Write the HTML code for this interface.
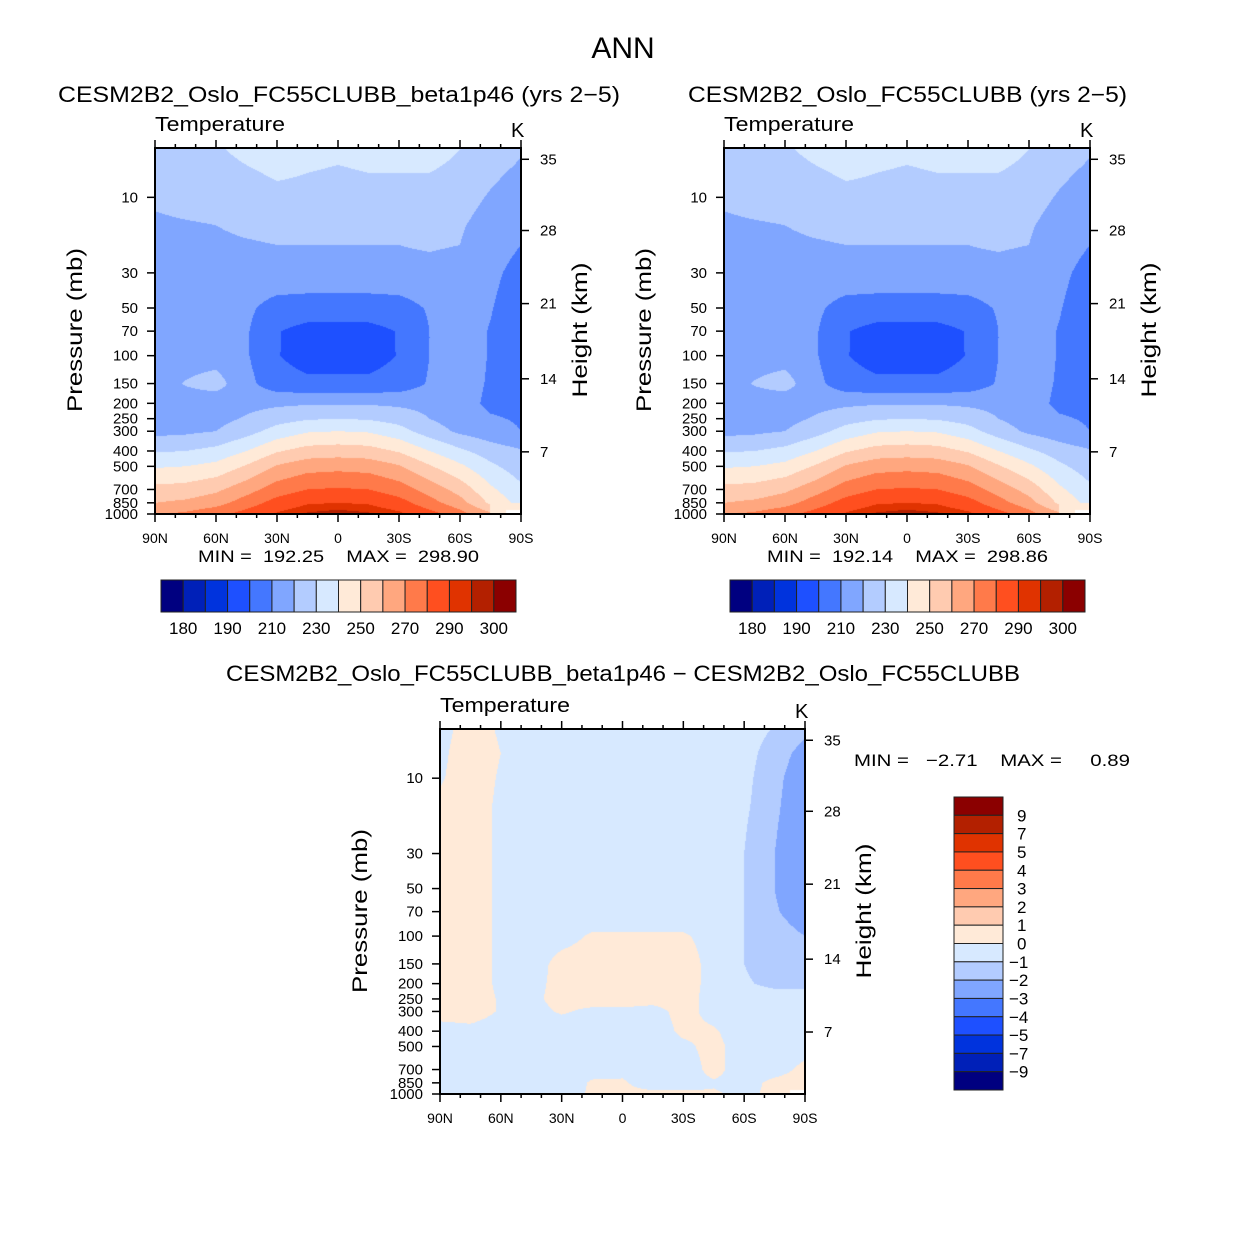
<!DOCTYPE html>
<html><head><meta charset="utf-8">
<style>
html,body{margin:0;padding:0;background:#fff;}
#root{position:relative;width:1246px;height:1244px;overflow:hidden;font-family:"Liberation Sans",sans-serif;}
canvas{position:absolute;}
svg{position:absolute;left:0;top:0;}
text{white-space:pre;}
</style></head>
<body>
<div id="root">
<canvas id="c1" width="366" height="366" style="left:155px;top:148px"></canvas>
<canvas id="c2" width="366" height="366" style="left:724px;top:148px"></canvas>
<canvas id="c3" width="365" height="365" style="left:440px;top:729px"></canvas>
<svg id="ov" width="1246" height="1244"></svg>
</div>
<script>
// ---- data ----
const lats = ["90N","75N","60N","45N","30N","15N","0","15S","30S","45S","60S","75S","90S"];
const pLevels = [5,7,10,15,20,30,50,70,100,150,200,250,300,400,500,700,850,1000];
const tempA = [
 [226,228,229,232,234,233,232,233,234,233,230,226,221],
 [224,226,227,229,231,230,229,230,230,230,228,222,218],
 [222,224,225,227,228,228,227,228,228,227,224,219,215],
 [218,219,220,222,223,223,223,223,223,223,221,216,212],
 [216,217,218,219,220,220,220,220,220,221,220,214,210],
 [215,215,216,216,217,217,217,217,217,217,216,212,207],
 [214,214,214,212,206,205,205,205,206,211,214,210.5,205],
 [214,214,215,211,200.5,197,197,197,200.5,210,214,209.5,205],
 [215,216,216,211,200.5,196,196,196,200.5,210,214,209.5,205],
 [216,220.5,224,213,204,202,202,202,204,211,214,209,206],
 [216,216,214,217,218,219,219,219,218,217,214,208,207],
 [216,216,217,221,226,229,230,229,226,220,215,211,209],
 [217,218,220,226,234,239,240,239,234,225,218,214,210],
 [229,230,233,240,249,254,255,254,249,240,232,225,221],
 [239,240,243,251,261,266,267,266,261,251,242,232,225],
 [253,254,258,266,275,280,281,280,275,266,256,242,232],
 [260,262,266,275,284,289,290,289,284,274,264,248,236],
 [269,272,277,284,291,296,298,296,292,284,274,262,null]
];
const tempB = tempA;
const diffAB = [
 [-0.3,0.4,-0.1,-0.5,-0.5,-0.5,-0.5,-0.5,-0.5,-0.5,-0.5,-1.1,-1.8],
 [-0.2,0.5,0.0,-0.5,-0.5,-0.5,-0.5,-0.5,-0.5,-0.5,-0.6,-1.5,-2.4],
 [-0.1,0.5,-0.1,-0.5,-0.5,-0.5,-0.5,-0.5,-0.5,-0.5,-0.7,-1.7,-2.7],
 [0.2,0.5,-0.2,-0.5,-0.5,-0.5,-0.5,-0.5,-0.5,-0.5,-0.8,-1.8,-2.8],
 [0.3,0.5,-0.2,-0.5,-0.5,-0.5,-0.5,-0.5,-0.5,-0.5,-0.9,-1.9,-2.8],
 [0.3,0.5,-0.2,-0.5,-0.5,-0.5,-0.5,-0.5,-0.5,-0.5,-1.0,-2.0,-2.8],
 [0.3,0.5,-0.2,-0.5,-0.5,-0.5,-0.5,-0.5,-0.5,-0.5,-1.0,-2.0,-2.8],
 [0.3,0.5,-0.2,-0.5,-0.5,-0.5,-0.5,-0.5,-0.5,-0.5,-1.0,-1.9,-2.5],
 [0.3,0.5,-0.2,-0.5,-0.3,0.1,0.1,0.1,0.1,-0.3,-1.0,-1.6,-2.0],
 [0.3,0.5,-0.2,-0.4,0.3,0.4,0.4,0.4,0.4,-0.3,-1.0,-1.4,-1.5],
 [0.3,0.5,-0.2,-0.3,0.3,0.4,0.4,0.4,0.4,-0.3,-0.9,-1.2,-1.2],
 [0.4,0.5,-0.1,-0.2,0.3,0.4,0.4,0.3,0.3,-0.3,-0.6,-0.6,-0.6],
 [0.4,0.5,-0.1,-0.3,0.1,-0.2,-0.2,-0.3,0.3,-0.3,-0.5,-0.5,-0.5],
 [-0.4,-0.3,-0.5,-0.5,-0.5,-0.5,-0.5,-0.5,0.2,0.1,-0.5,-0.5,-0.5],
 [-0.5,-0.5,-0.5,-0.5,-0.5,-0.5,-0.5,-0.5,-0.2,0.3,-0.5,-0.5,-0.3],
 [-0.5,-0.5,-0.5,-0.5,-0.5,-0.3,-0.2,-0.5,-0.5,0.3,-0.5,-0.3,0.2],
 [-0.5,-0.5,-0.5,-0.5,-0.5,0.1,0.1,-0.4,-0.4,-0.1,-0.3,0.2,0.3],
 [-0.5,-0.5,-0.5,-0.5,-0.3,0.1,0.2,0.2,0.2,0.1,-0.2,0.2,null]
];
const tempLevels = [180,185,190,200,210,220,230,240,250,260,270,280,290,295,300];
const tempTickLabels = ["180","190","210","230","250","270","290","300"];
const diffLevels = [-9,-7,-5,-4,-3,-2,-1,0,1,2,3,4,5,7,9];
const diffTickLabels = ["−9","−7","−5","−4","−3","−2","−1","0","1","2","3","4","5","7","9"];
const colors = ["#000080","#0020b8","#0033dd","#1e50ff","#4477ff","#80a6ff","#b3ccff","#d7e9ff","#ffead8","#ffcbb0","#ffa77f","#ff7a4a","#ff4f1f","#e03300","#b32000","#8b0000"];
const pTicks = [10,30,50,70,100,150,200,250,300,400,500,700,850,1000];
const hTicks = [35,28,21,14,7];
const hTickPressures = [5.75,16.2,46.9,140,405];
const xTickLabels = ["90N","60N","30N","0","30S","60S","90S"];

// ---- helpers ----
const PTOP = 4.88, PBOT = 1000;
function hexRGB(h){return [parseInt(h.substr(1,2),16),parseInt(h.substr(3,2),16),parseInt(h.substr(5,2),16)];}
const rgb = colors.map(hexRGB);
const logRows = pLevels.map(p=>Math.log10(p));
function sample(grid, colF, lp){
  let r=0; while(r<logRows.length-2 && lp>logRows[r+1]) r++;
  let fr=(lp-logRows[r])/(logRows[r+1]-logRows[r]); fr=Math.max(0,Math.min(1,fr));
  let c=Math.min(Math.floor(colF),lats.length-2); let fc=colF-c;
  const a=grid[r][c],b=grid[r][c+1],d=grid[r+1][c],e=grid[r+1][c+1];
  if(a==null||b==null||d==null||e==null){
    if(fc<0.5||fr<0.6) {
      const vals=[a,b,d,e].filter(v=>v!=null); if(vals.length>=3 && !(fc>0.6&&fr>0.6)) return vals.reduce((s,v)=>s+v,0)/vals.length;
    }
    return null;
  }
  return (a*(1-fc)+b*fc)*(1-fr)+(d*(1-fc)+e*fc)*fr;
}
function paint(id, grid, levels){
  const cv=document.getElementById(id), ctx=cv.getContext('2d');
  const W=cv.width,H=cv.height, img=ctx.createImageData(W,H);
  for(let y=0;y<H;y++){
    const lp=Math.log10(PTOP)+(Math.log10(PBOT)-Math.log10(PTOP))*(y+0.5)/H;
    for(let x=0;x<W;x++){
      const v=sample(grid,(x+0.5)/W*(lats.length-1),lp);
      let col=[255,255,255];
      if(v!=null){let k=0; while(k<levels.length&&v>=levels[k]) k++; col=rgb[k];}
      const i=(y*W+x)*4; img.data[i]=col[0];img.data[i+1]=col[1];img.data[i+2]=col[2];img.data[i+3]=255;
    }
  }
  ctx.putImageData(img,0,0);
}
paint('c1',tempA,tempLevels);
paint('c2',tempB,tempLevels);
paint('c3',diffAB,diffLevels);

const NS="http://www.w3.org/2000/svg", ov=document.getElementById('ov');
function el(tag,attrs,txt){const e=document.createElementNS(NS,tag);for(const k in attrs)e.setAttribute(k,attrs[k]);if(txt!=null)e.textContent=txt;ov.appendChild(e);return e;}
function text(x,y,s,size,anchor,name,extra){
  const t=el('text',Object.assign({x:x,y:y,'font-size':size,'text-anchor':anchor||'start','font-family':'Liberation Sans, sans-serif',fill:'#000'},extra||{}),s);
  
  
  return t;
}
function line(x1,y1,x2,y2,w,name){
  const l=el('line',{x1:x1,y1:y1,x2:x2,y2:y2,stroke:'#000','stroke-width':w});
  
  
}
function yOfP(p,y0,H){return y0+(Math.log10(p)-Math.log10(PTOP))/(Math.log10(PBOT)-Math.log10(PTOP))*H;}
function fit(len){return {textLength:len,lengthAdjust:'spacingAndGlyphs'};}

function panel(x0,y0,S,minmax,mmx,mmy,mmAnchor,mmLen){
  text(x0,y0-17,"Temperature",20,'start','variable-label',fit(130));
  text(x0+S-10,y0-11,"K",20,'start','units-label');
  const fr=el('rect',{x:x0,y:y0,width:S,height:S,fill:'none',stroke:'#000','stroke-width':2});
  
  
  for(let d=0;d<=180;d+=10){
    const x=x0+d/180*S, len=(d%30==0)?8:4;
    line(x,y0,x,y0-len,1.5,'top-tick');
    line(x,y0+S,x,y0+S+len,1.5,'bottom-tick');
  }
  xTickLabels.forEach((s,i)=>text(x0+i*S/6,y0+S+29,s,14,'middle','x-tick-label'));
  pTicks.forEach(p=>{
    const y=yOfP(p,y0,S);
    line(x0,y,x0-8,y,1.5,'y-tick');
    text(x0-17,y+5,String(p),15,'end','y-tick-label');
  });
  hTicks.forEach((h,i)=>{
    const y=yOfP(hTickPressures[i],y0,S);
    line(x0+S,y,x0+S+8,y,1.5,'height-tick');
    text(x0+S+19,y+5,String(h),15,'start','height-tick-label');
  });
  text(0,0,"Pressure (mb)",21,'middle','y-axis-title',Object.assign({transform:`translate(${x0-73},${y0+182}) rotate(-90)`},fit(164)));
  text(0,0,"Height (km)",21,'middle','right-axis-title',Object.assign({transform:`translate(${x0+S+66},${y0+182}) rotate(-90)`},fit(135)));
  text(mmx,mmy,minmax,17,mmAnchor,'min-max-label',fit(mmLen));
}
function hbar(x0,y0,w,h){
  const bw=w/colors.length;
  colors.forEach((c,i)=>{
    const r=el('rect',{x:x0+i*bw,y:y0,width:bw,height:h,fill:c,stroke:'#222','stroke-width':1});
    
    
  });
  tempTickLabels.forEach((s,i)=>text(x0+(2*i+1)*bw,y0+54,s,17,'middle','colorbar-label'));
}
function vbar(x0,y0,w,h){
  const bh=h/colors.length;
  colors.slice().reverse().forEach((c,i)=>{
    const r=el('rect',{x:x0,y:y0+i*bh,width:w,height:bh,fill:c,stroke:'#222','stroke-width':1});
    
    
  });
  diffTickLabels.slice().reverse().forEach((s,i)=>{
    const isNeg=s.startsWith('−');
    text(x0+w+(isNeg?6:14),y0+(i+1)*bh+6,s,17,'start','colorbar-label');
  });
}

text(623,58,"ANN",30,'middle','figure-title');
text(58,102,"CESM2B2_Oslo_FC55CLUBB_beta1p46 (yrs 2−5)",22,'start','panel-title-1',fit(562));
text(688,102,"CESM2B2_Oslo_FC55CLUBB (yrs 2−5)",22,'start','panel-title-2',fit(439));
text(226,681,"CESM2B2_Oslo_FC55CLUBB_beta1p46 − CESM2B2_Oslo_FC55CLUBB",22,'start','diff-title',fit(794));
panel(155,148,366,"MIN =  192.25    MAX =  298.90",198,562,'start',281);
panel(724,148,366,"MIN =  192.14    MAX =  298.86",767,562,'start',281);
panel(440,729,365,"MIN =   −2.71    MAX =     0.89",854,766,'start',276);
hbar(161,580,355,32);
hbar(730,580,355,32);
vbar(954,797,49,293);
</script>
</body></html>
